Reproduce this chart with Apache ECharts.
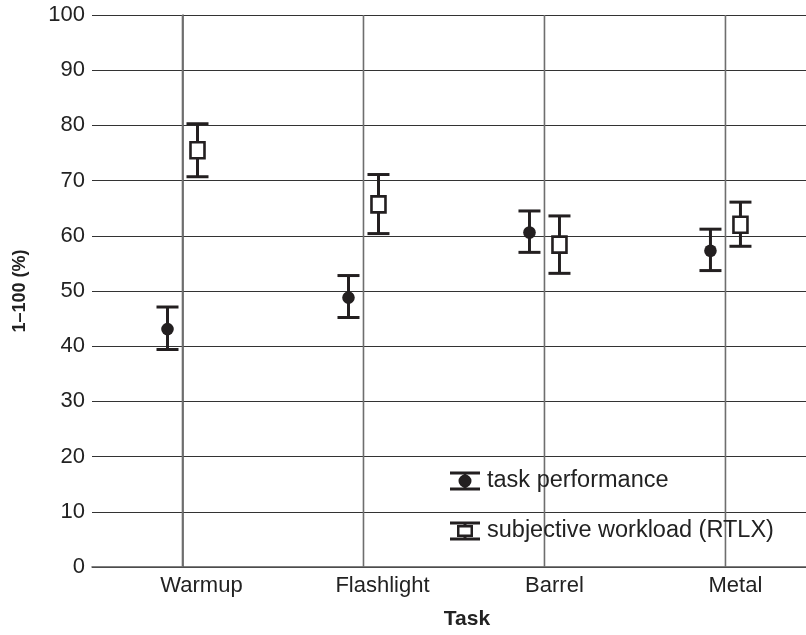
<!DOCTYPE html>
<html><head><meta charset="utf-8">
<script src="https://cdn.jsdelivr.net/npm/echarts@6/dist/echarts.min.js"></script>
<style>html,body{margin:0;padding:0;background:#fff}#c{width:806px;height:635px}</style>
</head><body><div id="c"></div>
<script>
var categories = ['Warmup', 'Flashlight', 'Barrel', 'Metal'];
var perfMean = [43.1, 48.8, 60.6, 57.3];
var perfLow  = [39.4, 45.2, 57.0, 53.7];
var perfHigh = [47.1, 52.8, 64.5, 61.2];
var rtlxMean = [75.5, 65.7, 58.4, 62.0];
var rtlxLow  = [70.7, 60.4, 53.2, 58.1];
var rtlxHigh = [80.3, 71.1, 63.6, 66.1];
var yTicks = [0, 10, 20, 30, 40, 50, 60, 70, 80, 90, 100];
// where the category labels sit (slightly right of each category centre, as in the source)
var labelPos = [0.105, 1.105, 2.055, 3.055];

var INK = '#231f20';
var FONT = 'Liberation Sans, Arial, sans-serif';

function build(mean, low, high) {
  return categories.map(function (c, i) { return [i, mean[i], low[i], high[i]]; });
}

function errRender(offset, marker) {
  return function (params, api) {
    var i = api.value(0);
    var pm = api.coord([i, api.value(1)]);
    var pl = api.coord([i, api.value(2)]);
    var ph = api.coord([i, api.value(3)]);
    var x = pm[0] + offset;
    var capW = 11;
    var st = { stroke: INK, lineWidth: 3 };
    var children = [
      { type: 'line', shape: { x1: x, y1: pl[1], x2: x, y2: ph[1] }, style: st },
      { type: 'line', shape: { x1: x - capW, y1: pl[1], x2: x + capW, y2: pl[1] }, style: st },
      { type: 'line', shape: { x1: x - capW, y1: ph[1], x2: x + capW, y2: ph[1] }, style: st }
    ];
    if (marker === 'dot') {
      children.push({ type: 'circle', shape: { cx: x, cy: pm[1], r: 6.3 }, style: { fill: INK } });
    } else {
      children.push({ type: 'rect', shape: { x: x - 7, y: pm[1] - 8, width: 14, height: 16 },
        style: { fill: '#fff', stroke: INK, lineWidth: 2.6 } });
    }
    return { type: 'group', children: children };
  };
}

var iconPerf = 'path://M0,0 L30,0 L30,3 L0,3 Z M0,16 L30,16 L30,19 L0,19 Z M13.5,3 L16.5,3 L16.5,16 L13.5,16 Z M8.5,9.5 a6.5,6.5 0 1,1 13,0 a6.5,6.5 0 1,1 -13,0 Z';
var iconRtlx = 'path://M0,0 L30,0 L30,3 L0,3 Z M0,16 L30,16 L30,19 L0,19 Z M13.5,3 L16.5,3 L16.5,4 L13.5,4 Z M13.5,15 L16.5,15 L16.5,16 L13.5,16 Z M7,3.5 L23,3.5 L23,15.5 L7,15.5 Z M9.5,6 L9.5,13 L20.5,13 L20.5,6 Z';

var chart = echarts.init(document.getElementById('c'), null, { renderer: 'canvas' });
chart.setOption({
  animation: false,
  backgroundColor: '#fff',
  textStyle: { fontFamily: FONT },
  grid: { left: 92, right: 0, top: 15, bottom: 66, containLabel: false },
  legend: {
    orient: 'vertical', left: 445, top: 464,
    itemWidth: 30, itemHeight: 19, itemGap: 26,
    data: [
      { name: 'task performance', icon: iconPerf },
      { name: 'subjective workload (RTLX)', icon: iconRtlx }
    ],
    textStyle: { fontSize: 23.5, color: '#222', fontFamily: FONT, padding: [0, 0, 0, 2] },
    selectedMode: false
  },
  xAxis: {
    type: 'value', min: -0.5, max: 3.445,
    name: 'Task', nameLocation: 'middle', nameGap: 42,
    nameTextStyle: { fontSize: 21, fontWeight: 'bold', color: '#222', fontFamily: FONT, padding: [0, 0, 0, 36] },
    axisLine: { lineStyle: { color: '#555', width: 1.5 } },
    axisTick: { show: false },
    axisLabel: {
      customValues: labelPos,
      fontSize: 22, color: '#222', margin: 8, fontFamily: FONT,
      formatter: function (v) { return categories[Math.round(v)] || ''; }
    },
    splitLine: { show: false }
  },
  yAxis: {
    type: 'value', min: yTicks[0], max: yTicks[yTicks.length - 1], interval: 10,
    name: '1\u2013100 (%)', nameLocation: 'middle', nameGap: 63,
    nameTextStyle: { fontSize: 18, fontWeight: 'bold', color: '#222', fontFamily: FONT },
    axisLine: { show: true, lineStyle: { color: '#555', width: 1.5 } },
    axisTick: { show: false },
    axisLabel: { fontSize: 22, color: '#222', margin: 7, fontFamily: FONT },
    splitLine: { show: true, lineStyle: { color: '#333', width: 1.2 } }
  },
  series: [
    {
      type: 'custom', silent: true, z: 1,
      data: categories.map(function (c, i) { return [i]; }),
      renderItem: function (params, api) {
        var i = api.value(0);
        var p0 = api.coord([i, yTicks[0]]);
        var p1 = api.coord([i, yTicks[yTicks.length - 1]]);
        return { type: 'line', shape: { x1: p0[0], y1: p0[1], x2: p1[0], y2: p1[1] },
          style: { stroke: '#6e6e6e', lineWidth: 1.6 } };
      }
    },
    {
      name: 'task performance', type: 'custom', z: 3,
      itemStyle: { color: INK },
      data: build(perfMean, perfLow, perfHigh),
      encode: { x: 0, y: [1, 2, 3] },
      renderItem: errRender(-15, 'dot')
    },
    {
      name: 'subjective workload (RTLX)', type: 'custom', z: 3,
      itemStyle: { color: INK },
      data: build(rtlxMean, rtlxLow, rtlxHigh),
      encode: { x: 0, y: [1, 2, 3] },
      renderItem: errRender(15, 'square')
    }
  ]
});
</script></body></html>
